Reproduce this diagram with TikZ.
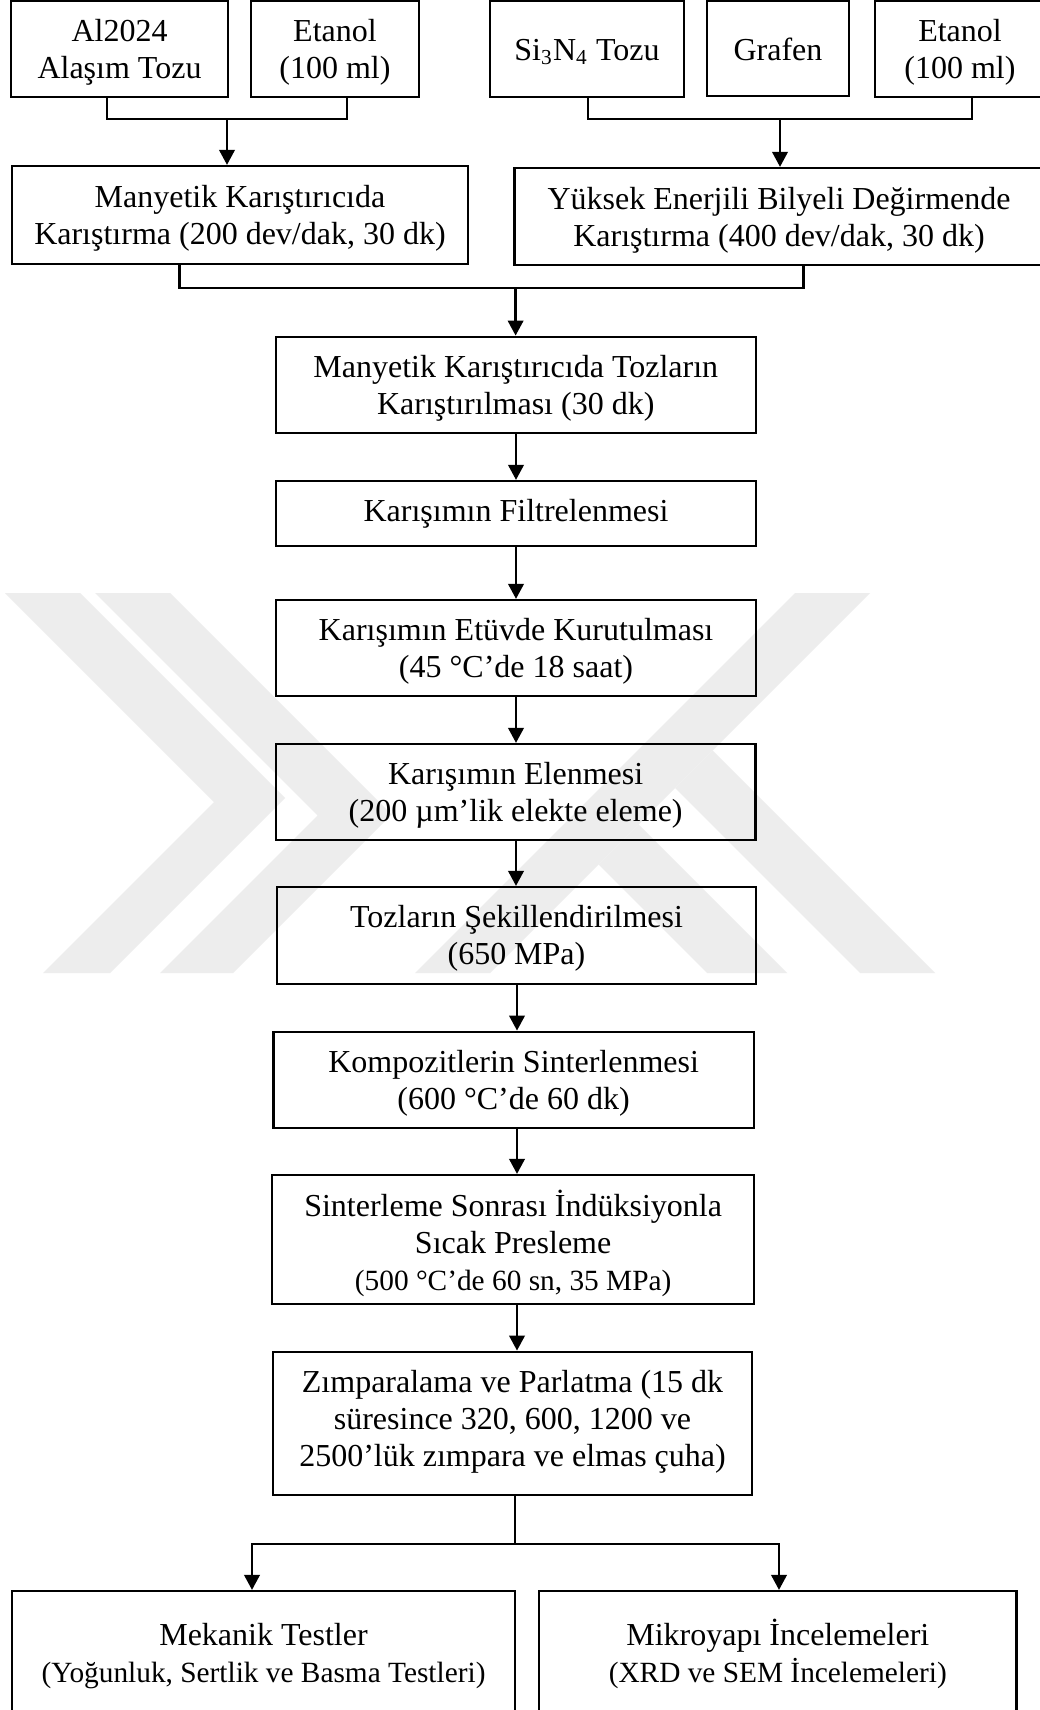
\documentclass[tikz,border=0pt]{standalone}
\usepackage{fontspec}
\setmainfont{Liberation Serif}
\usetikzlibrary{arrows.meta}
\tikzset{
  box/.style={draw, line width=0.85pt, inner sep=0pt},
  txt/.style={inner sep=0pt, align=center, font=\fontsize{12}{13.875}\selectfont},
  conn/.style={line width=0.85pt},
  arr/.style={line width=0.85pt, -{Triangle[length=5.6pt,width=5.8pt]}},
  wm/.style={fill=black!7, draw=none},
}
% name, x1, y1, x2, y2, text shift (px, downward), text
\newcommand\bx[7]{%
  \node[box, minimum width={(#4-#2)*0.375pt}, minimum height={(#5-#3)*0.375pt}]
    (#1) at ({(#2+#4)/2},{(#3+#5)/2}) {};
  \node[txt] (#1t) at ([yshift={-(#6)*0.375pt}]#1.center) {#7};}
\newcommand\sm{\fontsize{11}{13.875}\selectfont}
\begin{document}
\begin{tikzpicture}[x=0.375pt, y=-0.375pt]
\useasboundingbox (0,0) rectangle (1040,1710);
\fill[white] (0,0) rectangle (1040,1710);
\clip (0,0) rectangle (1040,1710);
% watermark
\fill[wm] (5,593) -- (80,593) -- (285,798) -- (110,973) -- (43,973) -- (214,802) -- cycle;
\fill[wm] (95,593) -- (170,593) -- (391.5,814.5) -- (233,973) -- (160,973) -- (317.5,815.5) -- cycle;
\fill[wm] (795,593) -- (870,593) -- (490,973) -- (415,973) -- cycle;
\fill[wm] (712.5,750.5) -- (935,973) -- (860,973) -- (675,788) -- cycle;
\fill[wm] (638.5,824.5) -- (787,973) -- (707,973) -- (598.5,864.5) -- cycle;
% top row
\bx{al}{11}{1}{228}{97}{3.5}{Al2024\\Alaşım Tozu}
\bx{et1}{251}{1}{419}{97}{3.5}{Etanol\\(100 ml)}
\bx{si}{490}{1}{684}{97}{3}{Si\textsubscript{3}N\textsubscript{4} Tozu}
\bx{gr}{707}{1}{849}{96}{1}{Grafen}
\bx{et2}{875}{1}{1045}{97}{3.5}{Etanol\\(100 ml)}
% second row
\bx{mk}{12}{166}{468}{264}{3.5}{Manyetik Karıştırıcıda\\Karıştırma (200 dev/dak, 30 dk)}
\bx{yk}{514.6}{168}{1043.4}{265}{3.5}{Yüksek Enerjili Bilyeli Değirmende\\Karıştırma (400 dev/dak, 30 dk)}
% chain
\bx{b3}{275.7}{336.7}{755.8}{432.7}{4}{Manyetik Karıştırıcıda Tozların\\Karıştırılması (30 dk)}
\bx{b4}{276}{481}{756}{546}{0}{Karışımın Filtrelenmesi}
\bx{b5}{276}{600}{756}{696}{3.5}{Karışımın Etüvde Kurutulması\\(45 °C’de 18 saat)}
\bx{b6}{275.8}{744}{755.5}{840}{3.5}{Karışımın Elenmesi\\(200 µm’lik elekte eleme)}
\bx{b7}{277}{887}{756}{984}{3}{Tozların Şekillendirilmesi\\(650 MPa)}
\bx{b8}{273.4}{1031.7}{753.8}{1127.7}{4}{Kompozitlerin Sinterlenmesi\\(600 °C’de 60 dk)}
\bx{b9}{272.3}{1175}{754}{1304}{3.5}{Sinterleme Sonrası İndüksiyonla\\Sıcak Presleme\\{\sm(500 °C’de 60 sn, 35 MPa)}}
\bx{b10}{273.3}{1351.7}{751.7}{1495}{-2}{Zımparalama ve Parlatma (15 dk\\süresince 320, 600, 1200 ve\\2500’lük zımpara ve elmas çuha)}
\bx{bl}{12}{1591}{515}{1722}{0}{Mekanik Testler\\{\sm(Yoğunluk, Sertlik ve Basma Testleri)}}
\bx{br}{539}{1591}{1016.6}{1722}{-2.5}{Mikroyapı İncelemeleri\\{\sm(XRD ve SEM İncelemeleri)}}
% connectors
\coordinate (a1) at (107,119); \coordinate (a2) at (347,119); \coordinate (j1) at (227,119);
\draw[conn] (al.south -| a1) |- (a2) -- (et1.south -| a2);
\draw[arr] (j1) -- (mk.north -| j1);
\coordinate (s1) at (588,119); \coordinate (s2) at (972,119); \coordinate (j2) at (780,119);
\draw[conn] (si.south -| s1) |- (s2) -- (et2.south -| s2);
\draw[arr] (j2) -- (yk.north -| j2);
\coordinate (c1) at (179.5,288); \coordinate (c2) at (803.5,288); \coordinate (j3) at (515.6,288);
\draw[conn] (mk.south -| c1) |- (c2) -- (yk.south -| c2);
\draw[arr] (j3) -- (b3.north -| j3);
\coordinate (v) at (516,0);
\draw[arr] (b3.south -| v) -- (b4.north -| v);
\draw[arr] (b4.south -| v) -- (b5.north -| v);
\draw[arr] (b5.south -| v) -- (b6.north -| v);
\draw[arr] (b6.south -| v) -- (b7.north -| v);
\coordinate (w) at (517,0);
\draw[arr] (b7.south -| w) -- (b8.north -| w);
\draw[arr] (b8.south -| w) -- (b9.north -| w);
\draw[arr] (b9.south -| w) -- (b10.north -| w);
\coordinate (d0) at (515,1544); \coordinate (d1) at (252,1544); \coordinate (d2) at (779,1544);
\draw[arr] (b10.south -| d0) -- (d0) -| (bl.north -| d1);
\draw[arr] (d0) -| (br.north -| d2);
\end{tikzpicture}
\end{document}
